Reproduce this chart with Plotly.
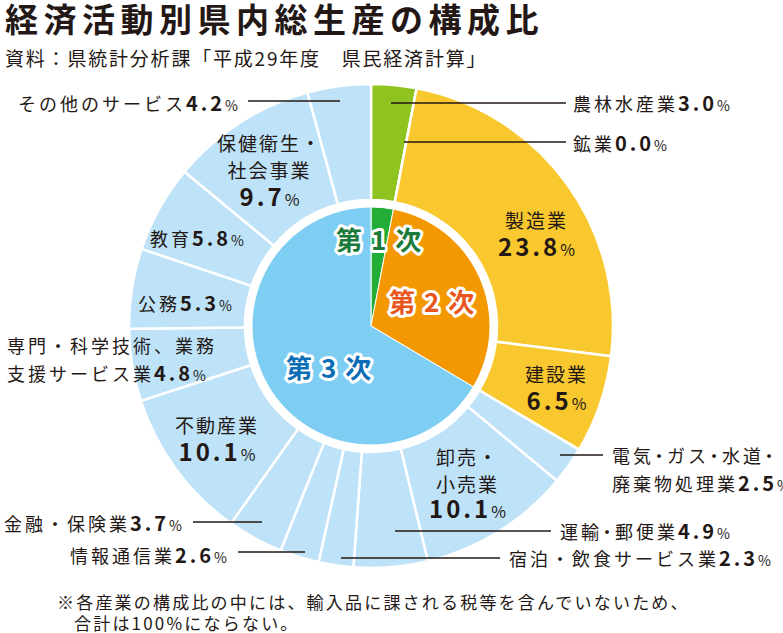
import plotly.graph_objects as go

W, H = 783, 633

# ---------------- data ----------------
industries = ["農林水産業", "鉱業", "製造業", "建設業",
              "電気・ガス・水道・廃棄物処理業", "卸売・小売業", "運輸・郵便業",
              "宿泊・飲食サービス業", "情報通信業", "金融・保険業", "不動産業",
              "専門・科学技術、業務支援サービス業", "公務", "教育",
              "保健衛生・社会事業", "その他のサービス"]
shares = [3.0, 0.0, 23.8, 6.5, 2.5, 10.1, 4.9, 2.3, 2.6, 3.7, 10.1, 4.8, 5.3, 5.8, 9.7, 4.2]
sector_of = [0, 1, 1, 1, 2, 2, 2, 2, 2, 2, 2, 2, 2, 2, 2, 2]
sectors = ["第1次", "第2次", "第3次"]
sector_shares = [round(sum(v for v, s in zip(shares, sector_of) if s == k), 1) for k in range(3)]

title = "経済活動別県内総生産の構成比"
source = "資料：県統計分析課「平成29年度　県民経済計算」"
note1 = "※各産業の構成比の中には、輸入品に課される税等を含んでいないため、"
note2 = "合計は100%にならない。"

# ---------------- styles ----------------
INK = "#231815"
FONT = "Noto Sans CJK JP"
outer_colors = ["#8fc31f", "#f9c82e", "#f9c82e", "#f9c82e"] + ["#bee3f8"] * 12
inner_colors = ["#22ac38", "#f39800", "#7ecef4"]
sector_text_colors = ["#1a7a3a", "#e8561e", "#0b6db5"]

CX, CY = 371, 326
R_OUT, R_HOLE, R_IN = 242, 126, 119


def px(x):
    return x / W


def py(y):
    return 1 - y / H


fig = go.Figure()
fig.add_trace(go.Pie(
    values=shares, labels=industries, sort=False, direction="clockwise", rotation=0,
    hole=R_HOLE / R_OUT,
    domain=dict(x=[px(CX - R_OUT), px(CX + R_OUT)], y=[py(CY + R_OUT), py(CY - R_OUT)]),
    marker=dict(colors=outer_colors, line=dict(color="white", width=2.5)),
    textinfo="none", hoverinfo="label+value", showlegend=False,
))
fig.add_trace(go.Pie(
    values=sector_shares, labels=sectors, sort=False, direction="clockwise", rotation=0,
    domain=dict(x=[px(CX - R_IN), px(CX + R_IN)], y=[py(CY + R_IN), py(CY - R_IN)]),
    marker=dict(colors=inner_colors, line=dict(color="white", width=1)),
    textinfo="none", hoverinfo="label+value", showlegend=False,
))


def span(s, size, ls):
    return f'<span style="font-size:{size}px;letter-spacing:{ls}px;">{s}</span>'


def txt(s, size, ls=3, narrow_dot=False):
    if not narrow_dot:
        return span(s, size, ls)
    parts = s.split("・")
    out = []
    for i, p in enumerate(parts):
        last = i == len(parts) - 1
        if p:
            if last:
                out.append(span(p, size, ls))
            else:
                if len(p) > 1:
                    out.append(span(p[:-1], size, ls))
                out.append(span(p[-1], size, -1))
        if not last:
            out.append(span("・", size, -1))
    return "".join(out)


def num(v, size=20, pct=14, ls=3):
    return (f'<span style="font-size:{size}px;letter-spacing:{ls}px;font-weight:bold;">{v:.1f}</span>'
            f'<span style="font-size:{pct}px;">%</span>')


annotations = []


def ann(text, x, y, xanchor="left", align="left", base=21):
    annotations.append(dict(text=text, x=px(x), y=py(y), xref="paper", yref="paper",
                            xanchor=xanchor, yanchor="middle", align=align, showarrow=False,
                            font=dict(family=FONT, size=base, color=INK)))


shapes = []


def leader(x0, x1, y):
    shapes.append(dict(type="line", xref="paper", yref="paper", x0=px(x0), x1=px(x1),
                       y0=py(y), y1=py(y), line=dict(color=INK, width=1.5)))


# outside labels (with leader lines)
leader(391, 566, 103)
ann(txt(industries[0], 18) + num(shares[0]), 571, 103)
leader(404, 566, 142)
ann(txt(industries[1], 18) + num(shares[1]), 571, 142)
leader(560, 603, 455)
ann(txt("電気・ガス・水道・", 18, 3, True) + "<br>" + txt("廃棄物処理業", 18) + num(shares[4]),
    610, 469, base=21.5)
leader(395, 551, 531)
ann(txt(industries[6], 18, 3, True) + num(shares[6]), 558, 530)
leader(341, 500, 558)
ann(txt(industries[7], 18) + num(shares[7]), 507, 557)
leader(238, 305, 552)
ann(txt(industries[8], 18) + num(shares[8]), 229, 554, xanchor="right")
leader(193, 262, 522)
ann(txt(industries[9], 18) + num(shares[9]), 184, 522, xanchor="right")
ann(txt("専門・科学技術、業務", 18) + "<br>" + txt("支援サービス業", 18) + num(shares[11]),
    5, 359, base=21.5)
leader(248, 340, 101)
ann(txt(industries[15], 18) + num(shares[15]), 240, 103, xanchor="right")

# inside labels
ann(txt("製造業", 19, 2) + "<br>" + num(shares[2], 24, 16, 3), 536, 234, "center", "center", 21.5)
ann(txt("建設業", 19, 2) + "<br>" + num(shares[3], 24, 16, 3), 556, 388, "center", "center", 21.5)
ann(txt("卸売・", 19, 2) + "<br>" + txt("小売業", 19, 2) + "<br>" + num(shares[5], 24, 16, 3),
    467, 484, "center", "center", 20.5)
ann(txt("不動産業", 19, 2) + "<br>" + num(shares[10], 24, 16, 3), 217, 439, "center", "center", 21.5)
ann(txt(industries[12], 18) + num(shares[12]), 185, 303, "center", "center")
ann(txt(industries[13], 18) + num(shares[13]), 197, 237, "center", "center")
ann(txt("保健衛生・", 19, 2) + "<br>" + txt("社会事業", 19, 2) + "<br>" + num(shares[14], 24, 16, 3),
    269, 171, "center", "center", 21)

# sector labels (outlined)
sector_pos = [(379, 238), (432, 300), (329, 366)]
for name, col, (x, y) in zip(sectors, sector_text_colors, sector_pos):
    t = (f'<span style="font-size:26px;font-weight:bold;letter-spacing:9px;'
         f'stroke:#ffffff;stroke-width:6px;paint-order:stroke;stroke-linejoin:round;">{name}</span>')
    annotations.append(dict(text=t, x=px(x + 4), y=py(y), xref="paper", yref="paper",
                            xanchor="center", yanchor="middle", showarrow=False,
                            font=dict(family=FONT, size=26, color=col)))

# title, source, note
ann(f'<span style="letter-spacing:5.5px;font-weight:bold;">{title}</span>', 3, 18, base=33)
ann(f'<span style="letter-spacing:1.8px;">{source}</span>', 3, 57, base=19)
ann(f'<span style="letter-spacing:2.2px;">{note1}</span>', 55, 601, base=17)
ann(f'<span style="letter-spacing:2.2px;">{note2}</span>', 72, 622, base=17)

fig.update_layout(
    width=W, height=H, margin=dict(l=0, r=0, t=0, b=0),
    paper_bgcolor="white", plot_bgcolor="white",
    annotations=annotations, shapes=shapes,
    font=dict(family=FONT, color=INK),
)

fig.write_html("out.html", config={"displayModeBar": False},
               post_script="document.body.style.margin='0';document.body.style.overflow='hidden';")
